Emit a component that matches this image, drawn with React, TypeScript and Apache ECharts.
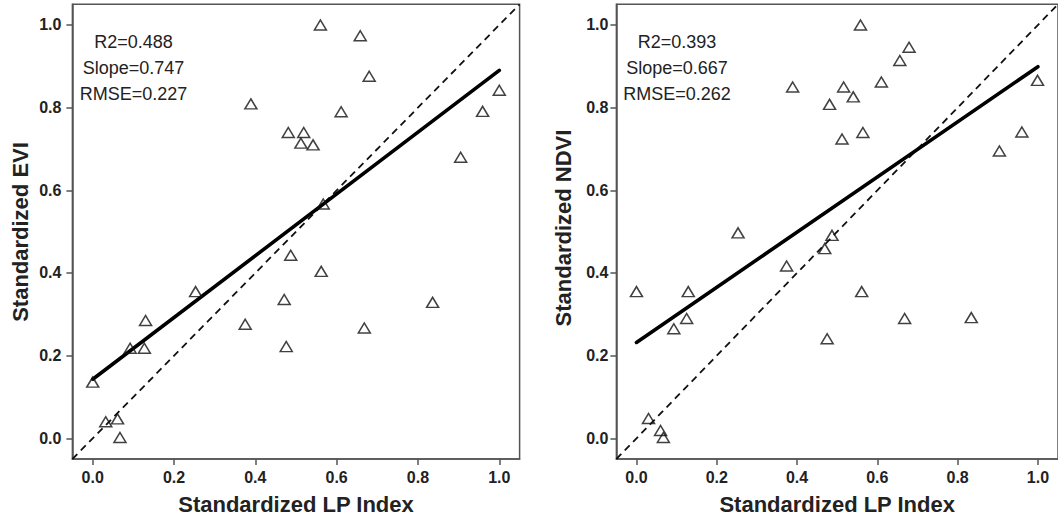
import React, { useEffect, useRef } from "react";
import * as echarts from "echarts";

// ---- Data ----
const lpEvi: number[] = [
  0.56, 0.658, 0.68, 0.389, 0.611, 1.0, 0.959, 0.481, 0.519, 0.512, 0.542, 0.905, 0.567,
  0.487, 0.562, 0.253, 0.471, 0.836, 0.13, 0.375, 0.668, 0.092, 0.127, 0.476, 0.0, 0.032, 0.061, 0.067,
];
const evi: number[] = [
  1.0, 0.974, 0.876, 0.809, 0.79, 0.842, 0.791, 0.74, 0.74, 0.714, 0.71, 0.68, 0.567,
  0.443, 0.404, 0.355, 0.336, 0.329, 0.285, 0.276, 0.267, 0.218, 0.218, 0.222, 0.136, 0.04, 0.047, 0.002,
];
const lpNdvi: number[] = [
  0.558, 0.679, 0.656, 0.61, 0.389, 0.516, 0.54, 0.481, 0.564, 0.512, 0.999, 0.96, 0.904,
  0.253, 0.487, 0.469, 0.374, 0.0, 0.129, 0.561, 0.125, 0.093, 0.668, 0.834, 0.475, 0.03, 0.06, 0.067,
];
const ndvi: number[] = [
  1.0, 0.946, 0.914, 0.862, 0.85, 0.85, 0.826, 0.808, 0.74, 0.724, 0.866, 0.741, 0.695,
  0.497, 0.491, 0.459, 0.417, 0.355, 0.355, 0.355, 0.29, 0.265, 0.29, 0.292, 0.241, 0.048, 0.019, 0.002,
];

const eviFit = { intercept: 0.143, slope: 0.747 };
const ndviFit = { intercept: 0.232, slope: 0.667 };

const eviStats: string[] = ["R2=0.488", "Slope=0.747", "RMSE=0.227"];
const ndviStats: string[] = ["R2=0.393", "Slope=0.667", "RMSE=0.262"];

const tickValues: number[] = [0, 0.2, 0.4, 0.6, 0.8, 1.0];
const axisMin = -0.05;
const axisMax = 1.05;

const xTitle = "Standardized LP Index";
const yTitles: string[] = ["Standardized EVI", "Standardized NDVI"];

const FONT = "'Liberation Sans', Arial, Helvetica, sans-serif";

export default function App() {
  const ref = useRef<HTMLDivElement>(null);

  useEffect(() => {
    if (!ref.current) return;
    const chart = echarts.init(ref.current, undefined, { renderer: "svg" });

    const axisCommon = (margin: number) => ({
      type: "value" as const,
      min: axisMin,
      max: axisMax,
      splitLine: { show: false },
      axisLine: { show: true, onZero: false, lineStyle: { color: "#555", width: 1.5 } },
      axisTick: {
        show: true,
        length: 6,
        customValues: tickValues,
        lineStyle: { color: "#555", width: 1.5 },
      },
      axisLabel: {
        customValues: tickValues,
        formatter: (v: number) => v.toFixed(1),
        fontFamily: FONT,
        fontWeight: "bold",
        fontSize: 16,
        color: "#222",
        margin,
      },
    });

    const xAxes = [0, 1].map((i) => ({
      ...axisCommon(10),
      gridIndex: i,
      name: xTitle,
      nameLocation: "middle",
      nameGap: 34,
      nameTextStyle: { fontFamily: FONT, fontWeight: "bold", fontSize: 22, color: "#222" },
    }));
    const yAxes = [0, 1].map((i) => ({
      ...axisCommon(i === 0 ? 11 : 8),
      gridIndex: i,
    }));

    const scatter = (xs: number[], ys: number[], idx: number) => ({
      type: "scatter",
      xAxisIndex: idx,
      yAxisIndex: idx,
      data: xs.map((x, k) => [x, ys[k]]),
      symbol: "triangle",
      symbolSize: [12, 10],
      itemStyle: { color: "rgba(255,255,255,0)", borderColor: "#111", borderWidth: 1.5 },
      z: 5,
    });
    const fitLine = (fit: { intercept: number; slope: number }, idx: number) => ({
      type: "line",
      xAxisIndex: idx,
      yAxisIndex: idx,
      data: [
        [0, fit.intercept],
        [1, fit.intercept + fit.slope],
      ],
      symbol: "none",
      lineStyle: { color: "#000", width: 3.6, cap: "round" },
      z: 3,
    });
    const oneToOne = (idx: number) => ({
      type: "line",
      xAxisIndex: idx,
      yAxisIndex: idx,
      data: [
        [axisMin, axisMin],
        [axisMax, axisMax],
      ],
      symbol: "none",
      lineStyle: { color: "#111", width: 1.8, type: [7, 5] },
      z: 2,
    });

    const statText = (lines: string[], cx: number) =>
      lines.map((t, k) => ({
        type: "text",
        x: cx,
        y: 42 + k * 25.8,
        style: {
          text: t,
          fontFamily: FONT,
          fontSize: 18,
          fill: "#222",
          textAlign: "center",
          textVerticalAlign: "middle",
        },
      }));

    const yTitle = (t: string, cx: number, cy: number) => ({
      type: "text",
      x: cx,
      y: cy,
      rotation: Math.PI / 2,
      style: {
        text: t,
        fontFamily: FONT,
        fontWeight: "bold",
        fontSize: 22,
        fill: "#222",
        textAlign: "center",
        textVerticalAlign: "middle",
      },
    });

    chart.setOption({
      animation: false,
      backgroundColor: "#fff",
      grid: [
        { left: 72.4, top: 4.3, width: 447.2, height: 457.2, show: true, borderColor: "#555", borderWidth: 1.5, backgroundColor: "transparent" },
        { left: 616.4, top: 4.3, width: 447.2, height: 457.2, show: true, borderColor: "#555", borderWidth: 1.5, backgroundColor: "transparent" },
      ],
      xAxis: xAxes,
      yAxis: yAxes,
      series: [
        oneToOne(0),
        fitLine(eviFit, 0),
        scatter(lpEvi, evi, 0),
        oneToOne(1),
        fitLine(ndviFit, 1),
        scatter(lpNdvi, ndvi, 1),
      ],
      graphic: [
        ...statText(eviStats, 133.5),
        ...statText(ndviStats, 677),
        yTitle(yTitles[0], 20, 232),
        yTitle(yTitles[1], 563, 228),
      ],
    });

    return () => chart.dispose();
  }, []);

  return (
    <div
      ref={ref}
      style={{ position: "absolute", left: 0, top: 0, width: 1058, height: 520 }}
    />
  );
}
